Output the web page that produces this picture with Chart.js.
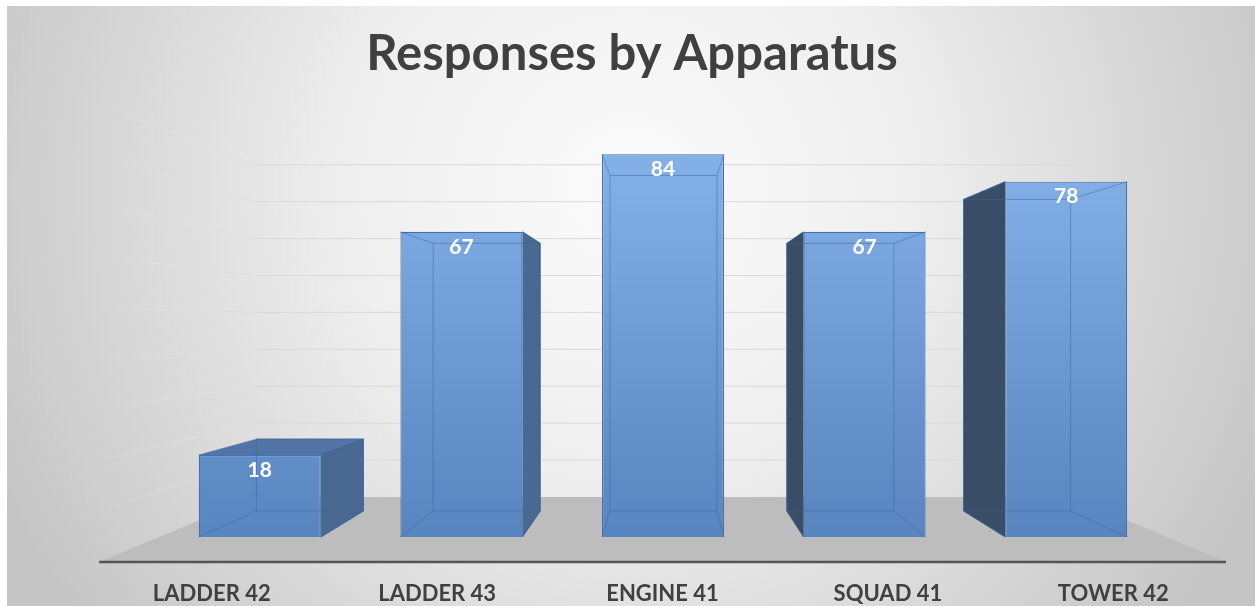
<!DOCTYPE html>
<html>
<head>
<meta charset="utf-8">
<script src="https://cdn.jsdelivr.net/npm/chart.js@4.4.1/dist/chart.umd.min.js"></script>
<style>
  html, body { margin: 0; padding: 0; background: #fff; }
  #wrap { width: 1255px; height: 606px; }
</style>
</head>
<body>
<div id="wrap"><canvas id="chart" width="1255" height="606"></canvas></div>
<script>
// data
const categories = ['LADDER 42', 'LADDER 43', 'ENGINE 41', 'SQUAD 41', 'TOWER 42'];
const responses = [18, 67, 84, 67, 78];
const gridValues = [10, 20, 30, 40, 50, 60, 70, 80, 90];
const chartTitle = 'Responses by Apparatus';

// perspective: vanishing point and depth scales (bar front = 1)
const VP = { x: 667, y: 326 };
const DEPTH = { floorFront: 1.118, barBack: 0.877, wall: 0.81 };

function proj(x, y, s) {
    return { x: VP.x + (x - VP.x) * s, y: VP.y + (y - VP.y) * s };
}

function poly(ctx, pts, fill) {
    ctx.beginPath();
    ctx.moveTo(pts[0].x, pts[0].y);
    for (let i = 1; i < pts.length; i++) ctx.lineTo(pts[i].x, pts[i].y);
    ctx.closePath();
    ctx.fillStyle = fill;
    ctx.fill();
}

function line(ctx, a, b) {
    ctx.beginPath();
    ctx.moveTo(a.x, a.y);
    ctx.lineTo(b.x, b.y);
    ctx.stroke();
}

const scene3d = {
    id: 'scene3d',
    beforeDraw(chart) {
        const ctx = chart.ctx;
        const area = chart.chartArea;
        const yScale = chart.scales.y;
        const W = chart.width, H = chart.height;

        ctx.save();
        ctx.fillStyle = '#ffffff';
        ctx.fillRect(0, 0, W, H);
        const bg = ctx.createRadialGradient(630, 190, 0, 630, 190, 700);
        bg.addColorStop(0, '#fbfbfb');
        bg.addColorStop(0.4, '#efefef');
        bg.addColorStop(1, '#c5c5c5');
        ctx.fillStyle = bg;
        ctx.fillRect(7, 6, W - 7, H - 6);

        // gridlines: back wall + left side wall
        ctx.lineWidth = 1;
        gridValues.forEach(v => {
            const y = yScale.getPixelForValue(v);
            const bl = proj(area.left, y, DEPTH.wall);
            const br = proj(area.right, y, DEPTH.wall);
            const fl = proj(area.left, y, DEPTH.floorFront);
            ctx.strokeStyle = '#d9d9d9';
            line(ctx, bl, br);
            const g = ctx.createLinearGradient(fl.x, 0, bl.x, 0);
            g.addColorStop(0, 'rgba(232,232,232,0)');
            g.addColorStop(0.25, 'rgba(232,232,232,0.35)');
            g.addColorStop(1, 'rgba(220,220,220,0.9)');
            ctx.strokeStyle = g;
            line(ctx, fl, bl);
        });

        // floor
        const b = yScale.getPixelForValue(0);
        const f1 = proj(area.left, b, DEPTH.floorFront);
        const f2 = proj(area.right, b, DEPTH.floorFront);
        const f3 = proj(area.right, b, DEPTH.wall);
        const f4 = proj(area.left, b, DEPTH.wall);
        poly(ctx, [f1, f2, f3, f4], '#bdbdbd');
        ctx.strokeStyle = '#555555';
        ctx.lineWidth = 2.5;
        line(ctx, f1, f2);

        // title
        ctx.fillStyle = '#404040';
        ctx.font = 'bold 49px Lato';
        ctx.textAlign = 'center';
        ctx.textBaseline = 'middle';
        ctx.fillText(chartTitle, 632, 54);

        // category labels on the floor front edge
        const xScale = chart.scales.x;
        ctx.font = 'bold 22px Lato';
        categories.forEach((c, i) => {
            const p = proj(xScale.getPixelForValue(i), b, DEPTH.floorFront);
            ctx.fillText(c, p.x, 594);
        });
        ctx.restore();
    },
    beforeDatasetsDraw(chart) {
        const ctx = chart.ctx;
        ctx.save();
        chart.getDatasetMeta(0).data.forEach(bar => {
            const { x, y, base, width } = bar.getProps(['x', 'y', 'base', 'width'], true);
            const l = x - width / 2, r = x + width / 2;
            const s = DEPTH.barBack;
            const btl = proj(l, y, s), btr = proj(r, y, s);
            const bbl = proj(l, base, s), bbr = proj(r, base, s);
            if (btr.x > r) {
                poly(ctx, [{ x: r, y: y }, btr, bbr, { x: r, y: base }], '#4a6992');
            }
            if (btl.x < l) {
                poly(ctx, [{ x: l, y: y }, btl, bbl, { x: l, y: base }], '#3a4d67');
            }
            if (btl.y < y) {
                poly(ctx, [{ x: l, y: y }, { x: r, y: y }, btr, btl], '#5175a6');
            }
            ctx.strokeStyle = 'rgba(55,90,140,0.8)';
            ctx.lineWidth = 1;
            if (btr.x > r) { line(ctx, { x: r, y: y }, btr); line(ctx, btr, bbr); line(ctx, bbr, { x: r, y: base }); }
            if (btl.x < l) { line(ctx, { x: l, y: y }, btl); line(ctx, btl, bbl); line(ctx, bbl, { x: l, y: base }); }
            if (btl.y < y) { line(ctx, btl, btr); }
        });
        ctx.restore();
    },
    afterDatasetsDraw(chart) {
        const ctx = chart.ctx;
        ctx.save();
        chart.getDatasetMeta(0).data.forEach((bar, i) => {
            const { x, y, base, width } = bar.getProps(['x', 'y', 'base', 'width'], true);
            const l = x - width / 2, r = x + width / 2;
            const s = DEPTH.barBack;
            const btl = proj(l, y, s), btr = proj(r, y, s);
            const bbl = proj(l, base, s), bbr = proj(r, base, s);
            // edges seen through the front face
            ctx.strokeStyle = 'rgba(60,100,160,0.5)';
            ctx.lineWidth = 1;
            line(ctx, btl, btr); line(ctx, btr, bbr); line(ctx, bbr, bbl); line(ctx, bbl, btl);
            line(ctx, { x: l, y: y }, btl); line(ctx, { x: r, y: y }, btr);
            line(ctx, { x: l, y: base }, bbl); line(ctx, { x: r, y: base }, bbr);

            ctx.fillStyle = '#ffffff';
            ctx.font = 'bold 21px Lato';
            ctx.textAlign = 'center';
            ctx.textBaseline = 'middle';
            ctx.fillText(String(responses[i]), x, y + 15);
        });
        ctx.restore();
    }
};

const ctx = document.getElementById('chart').getContext('2d');
const chart = new Chart(ctx, {
    type: 'bar',
    data: {
        labels: categories,
        datasets: [{
            data: responses,
            backgroundColor: (c) => {
                const a = c.chart.chartArea;
                if (!a) return '#6a96d0';
                const g = c.chart.ctx.createLinearGradient(0, a.top, 0, a.bottom);
                g.addColorStop(0, '#88b4ec');
                g.addColorStop(1, '#5884bf');
                return g;
            },
            borderColor: '#4271ad',
            borderWidth: 1.2,
            barPercentage: 0.605,
            categoryPercentage: 1
        }]
    },
    options: {
        responsive: false,
        animation: false,
        layout: { padding: { left: 159, right: 88, top: 127, bottom: 69 } },
        scales: {
            x: { display: false },
            y: { display: false, min: 0, max: 90 }
        },
        plugins: { legend: { display: false }, title: { display: false }, tooltip: { enabled: false } }
    },
    plugins: [scene3d]
});
</script>
</body>
</html>
